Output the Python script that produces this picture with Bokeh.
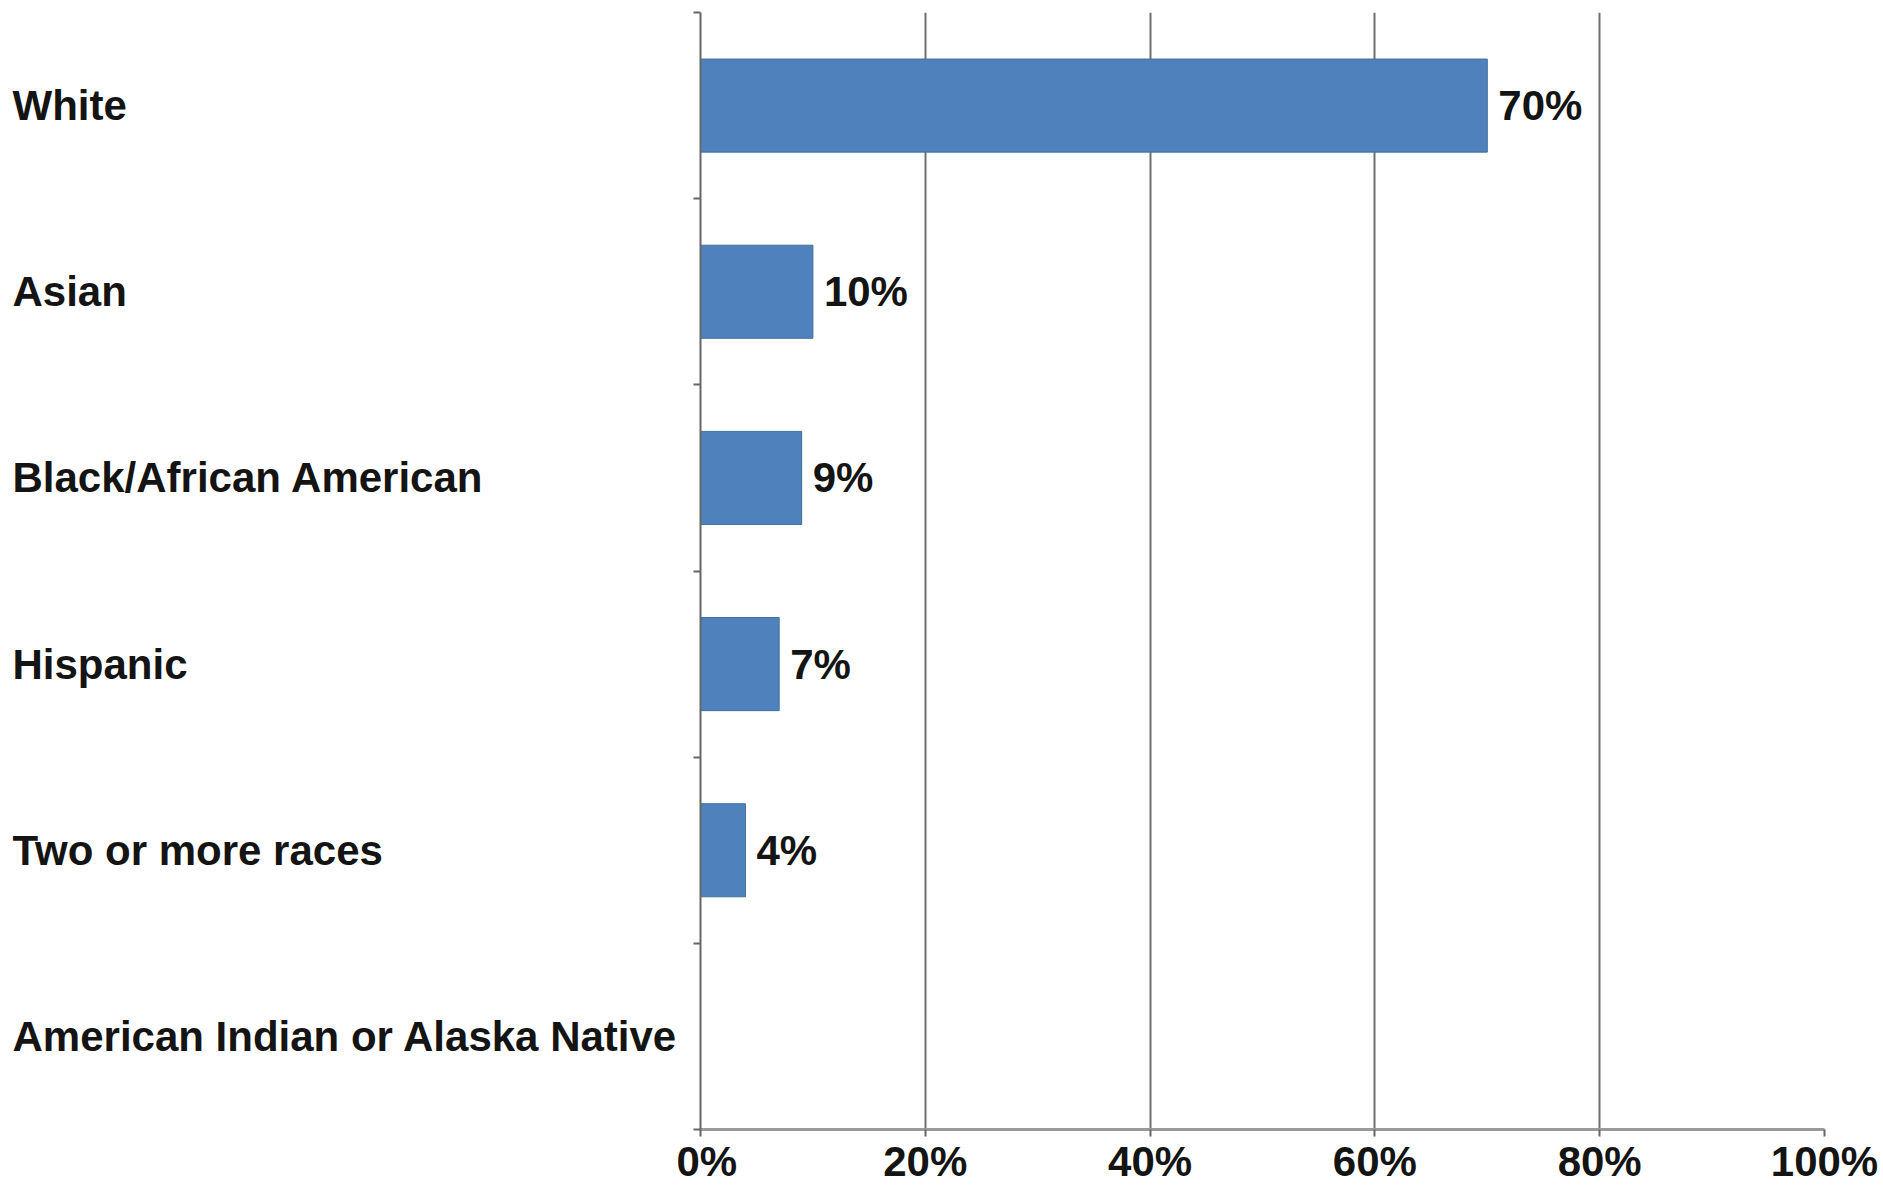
from bokeh.plotting import figure
from bokeh.layouts import row
from bokeh.models import (ColumnDataSource, Range1d, FixedTicker, PrintfTickFormatter)
from bokeh.core.properties import value
from bokeh.embed import file_html
from bokeh.resources import INLINE

categories = ["White", "Asian", "Black/African American", "Hispanic",
              "Two or more races", "American Indian or Alaska Native"]
values = [70, 10, 9, 7, 4, 0]
x_ticks = [0, 20, 40, 60, 80, 100]

n = len(categories)
ypos = [n - i - 0.5 for i in range(n)]
value_labels = [f"{v}%" if v > 0 else "" for v in values]

src = ColumnDataSource(dict(cat=categories, val=values, y=ypos, zero=[0] * n,
                            vlab=value_labels))

FONT = "Liberation Sans"
FS = "42px"
TXT = "#141414"
yr = Range1d(0, n)

LEFT_W = 676   # width of the label panel
B_LEFT = 24    # left border of chart panel (frame starts at page x=700)
TOP = 12

# Left panel: category labels, left aligned
lp = figure(frame_width=LEFT_W, frame_height=1117, output_backend="svg",
            toolbar_location=None, x_range=Range1d(0, 1), y_range=yr,
            x_axis_type=None, y_axis_type=None,
            min_border_left=0, min_border_right=0, min_border_top=TOP,
            min_border_bottom=0)
lp.outline_line_color = None
lp.xgrid.visible = False
lp.ygrid.visible = False
lp.text(x="zero", y="y", text="cat", source=src, x_offset=12,
        text_align="left", text_baseline="middle",
        text_font=value(FONT), text_font_style="bold",
        text_font_size=FS, text_color=TXT)

# Right panel: bar chart
p = figure(frame_width=1124, frame_height=1117, output_backend="svg",
           toolbar_location=None, x_range=Range1d(0, 100), y_range=yr,
           min_border_left=B_LEFT, min_border_right=54, min_border_top=TOP,
           min_border_bottom=30)
p.outline_line_color = None

p.hbar(y="y", right="val", left=0, height=0.5, source=src,
       fill_color="#4F81BD", line_color="#41719C", line_width=1)

p.text(x="val", y="y", text="vlab", source=src, x_offset=11,
       text_align="left", text_baseline="middle",
       text_font=value(FONT), text_font_style="bold",
       text_font_size=FS, text_color=TXT)

# X axis
p.xaxis.ticker = FixedTicker(ticks=x_ticks)
p.xaxis.formatter = PrintfTickFormatter(format="%d%%")
p.xaxis.major_label_text_font = FONT
p.xaxis.major_label_text_font_style = "bold"
p.xaxis.major_label_text_font_size = FS
p.xaxis.major_label_text_color = TXT
p.xaxis.major_label_standoff = 1
p.xaxis.major_tick_out = 7
p.xaxis.major_tick_in = 0
p.xaxis.major_tick_line_color = "#666666"
p.xaxis.major_tick_line_width = 2
p.xaxis.minor_tick_line_color = None
p.xaxis.axis_line_color = "#9a9a9a"
p.xaxis.axis_line_width = 3

# Y axis: ticks at category boundaries, no labels
p.yaxis.ticker = FixedTicker(ticks=list(range(n + 1)))
p.yaxis.major_label_overrides = {i: "" for i in range(n + 1)}
p.yaxis.major_label_standoff = 0
p.yaxis.major_tick_out = 7
p.yaxis.major_tick_in = 0
p.yaxis.major_tick_line_color = "#666666"
p.yaxis.major_tick_line_width = 2
p.yaxis.minor_tick_line_color = None
p.yaxis.axis_line_color = "#666666"
p.yaxis.axis_line_width = 2

p.xgrid.ticker = FixedTicker(ticks=x_ticks[1:])
p.xgrid.grid_line_color = "#6e6e6e"
p.xgrid.grid_line_width = 2
p.ygrid.grid_line_color = None

layout = row(lp, p, spacing=0)
open("out.html", "w").write(file_html(layout, INLINE))
